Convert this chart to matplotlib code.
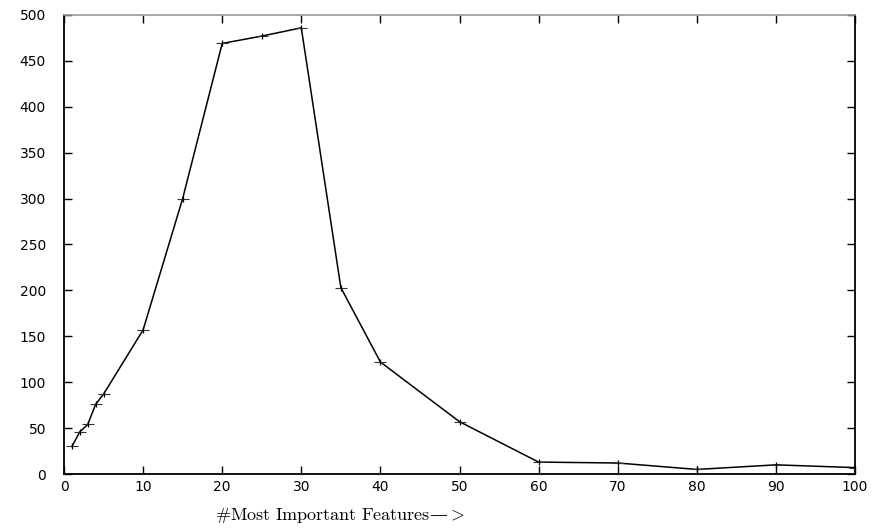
import numpy as np
import matplotlib
matplotlib.use("Agg")
import matplotlib.pyplot as plt

# number of most important features vs value
n_features = [1, 2, 3, 4, 5, 10, 15, 20, 25, 30, 35, 40, 50, 60, 70, 80, 90, 100]
values = [30, 46, 54, 76, 87, 157, 300, 469, 477, 486, 203, 122, 57, 13, 12, 5, 10, 7]

x_ticks = [0, 10, 20, 30, 40, 50, 60, 70, 80, 90, 100]
y_ticks = [0, 50, 100, 150, 200, 250, 300, 350, 400, 450, 500]

plt.rcParams['mathtext.fontset'] = 'cm'

fig = plt.figure(figsize=(8.72, 5.31), dpi=100)
ax = fig.add_axes([0.0734, 0.1073, 0.9071, 0.8645])

ax.plot(n_features, values, color='black', linewidth=1.1)
# gnuplot style "+" points: wide horizontal bar, short vertical bar
ax.plot(n_features, values, linestyle='none', marker='_', markersize=9,
        markeredgewidth=0.8, color='#333333')
ax.plot(n_features, values, linestyle='none', marker='|', markersize=4,
        markeredgewidth=0.9, color='black')

ax.set_xlim(0, 100)
ax.set_ylim(0, 500)
ax.set_xticks(x_ticks)
ax.set_yticks(y_ticks)
ax.tick_params(direction='in', top=True, right=True, length=6, width=1,
               labelsize=10)
ax.tick_params(axis='y', pad=13)
ax.tick_params(axis='x', pad=4)
for lab in ax.get_xticklabels() + ax.get_yticklabels():
    lab.set_fontfamily('DejaVu Sans')

for side in ['left', 'bottom', 'right']:
    ax.spines[side].set_linewidth(1.3)
ax.spines['top'].set_color('#999999')
ax.spines['top'].set_linewidth(1.2)

fig.text(0.247, 0.03, r"$\#\mathrm{Most\ Important\ Features}$—$>$",
         fontsize=13, ha='left', va='center', family='DejaVu Serif')

fig.savefig("out.png", dpi=100)
